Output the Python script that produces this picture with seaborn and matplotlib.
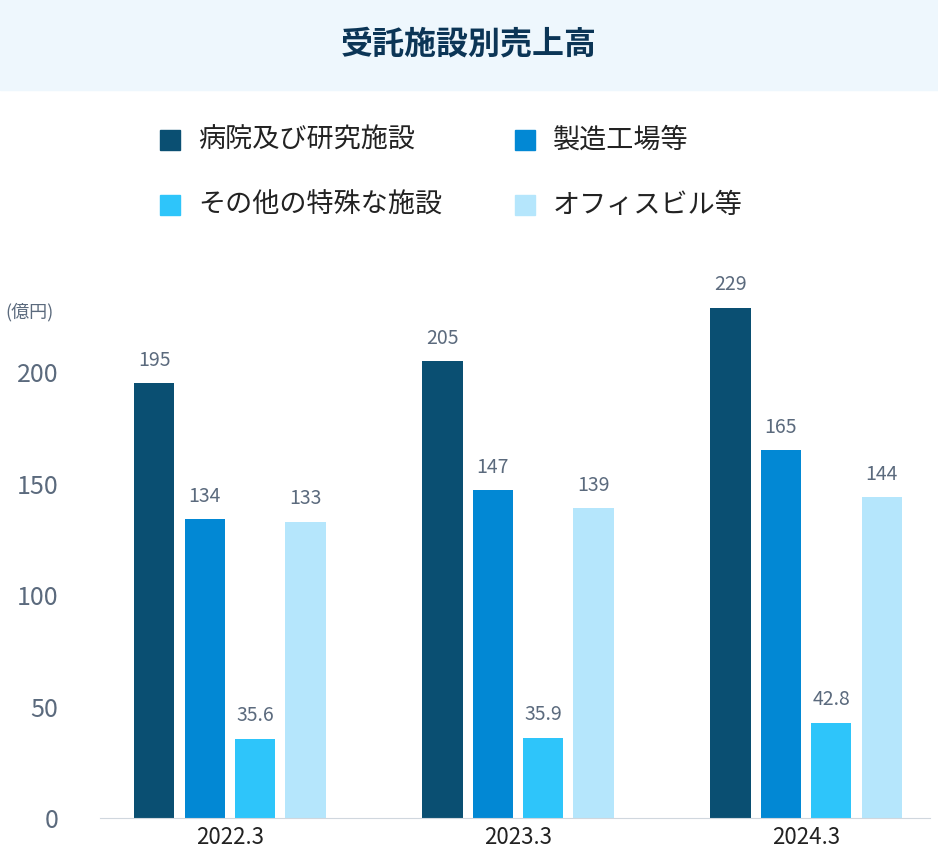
import matplotlib
matplotlib.use("Agg")
import matplotlib.pyplot as plt
import seaborn as sns
import pandas as pd
from matplotlib.patches import Rectangle

plt.rcParams["font.family"] = "Noto Sans CJK JP"

years = ["2022.3", "2023.3", "2024.3"]
categories = ["病院及び研究施設", "製造工場等", "その他の特殊な施設", "オフィスビル等"]
values = {
    "病院及び研究施設": [195, 205, 229],
    "製造工場等": [134, 147, 165],
    "その他の特殊な施設": [35.6, 35.9, 42.8],
    "オフィスビル等": [133, 139, 144],
}
colors = ["#0a4f72", "#0288d4", "#2ec5fa", "#b5e6fc"]

rows = [(y, c, values[c][i]) for c in categories for i, y in enumerate(years)]
df = pd.DataFrame(rows, columns=["year", "cat", "val"])

W, H = 938, 863
fig = plt.figure(figsize=(W/100, H/100), dpi=100)
fig.patches.append(Rectangle((0, (H-90)/H), 1, 90/H, transform=fig.transFigure,
                             color="#eef7fd", zorder=0))
fig.text(0.5, (H-45)/H, "受託施設別売上高", ha="center", va="center",
         fontsize=23, fontweight="bold", color="#0b3556")

ax = fig.add_axes([100/W, 45/H, 830/W, (818-283)/H])
sns.barplot(data=df, x="year", y="val", hue="cat", hue_order=categories,
            palette=colors, width=0.70, gap=0.2, ax=ax, legend=False, saturation=1)
ax.set_ylim(0, 240)
ax.set_xlim(-0.451, 2.43)
ax.set_yticks([0, 50, 100, 150, 200])
ax.tick_params(axis="y", length=0, labelsize=18, labelcolor="#5b6a7d", pad=30)
ax.tick_params(axis="x", length=0, labelsize=16, labelcolor="#222222", pad=6)
ax.set_xlabel(""); ax.set_ylabel("")
for s in ["top", "right", "left"]:
    ax.spines[s].set_visible(False)
ax.spines["bottom"].set_color("#d0d7de")
for cont in ax.containers:
    labels = [f"{v:g}" for v in cont.datavalues]
    ax.bar_label(cont, labels=labels, padding=9, fontsize=14, color="#5b6a7d")
fig.text(5/W, (H-312)/H, "(億円)", fontsize=13, color="#5b6a7d", va="center")

# legend
pos = [(160, 140), (515, 140), (160, 205), (515, 205)]
for (px, py), c, col in zip(pos, categories, colors):
    fig.patches.append(Rectangle((px/W, (H-py-10)/H), 20/W, 20/H,
                                 transform=fig.transFigure, color=col))
    fig.text((px+38)/W, (H-py)/H, c, fontsize=19.5, va="center", color="#222222")

fig.savefig("out.png", dpi=100)
